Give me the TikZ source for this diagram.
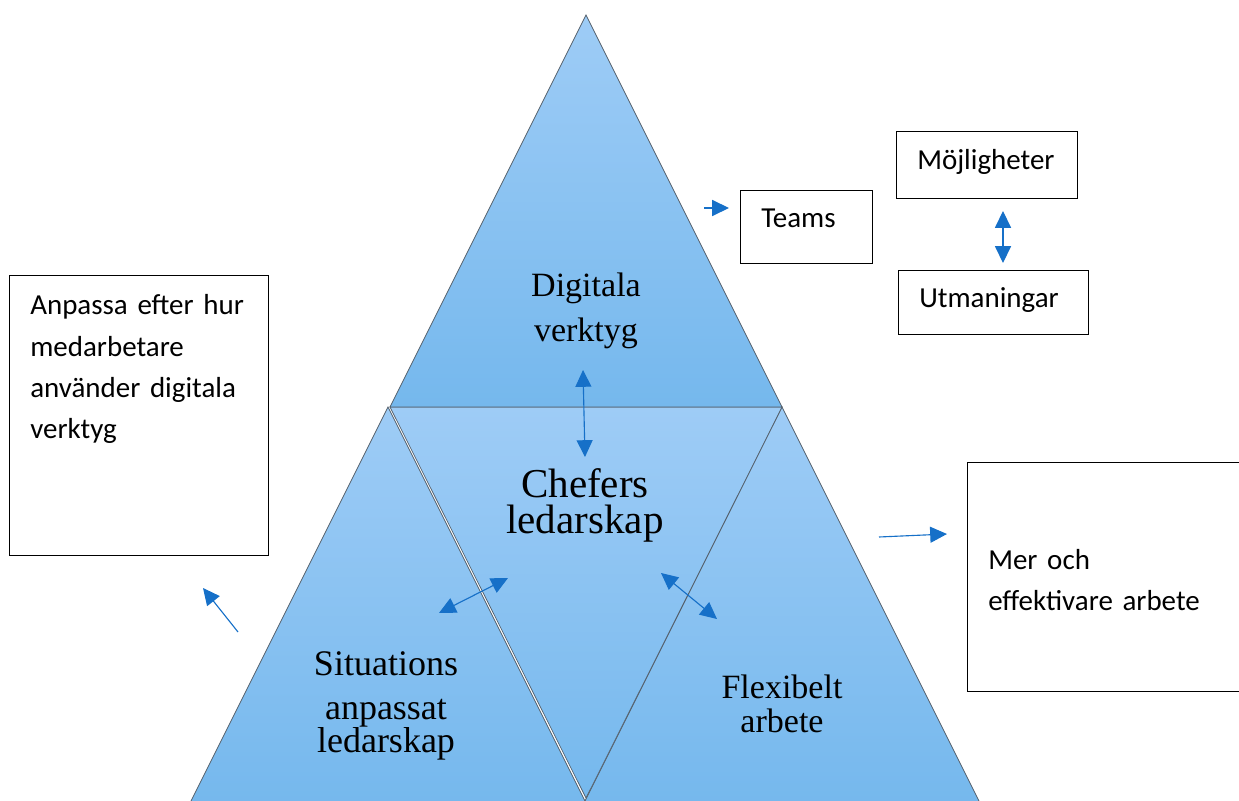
\documentclass[tikz,border=0pt]{standalone}
\usepackage[svgnames]{xcolor}
\usepackage{fontspec}
\setmainfont{Liberation Serif}
\newfontfamily\boxfont{Carlito}
\usepackage{tikz}
\usetikzlibrary{arrows.meta}

\definecolor{PyrLight}{RGB}{158,204,246}
\definecolor{PyrDark}{RGB}{117,184,237}
\definecolor{PyrEdge}{RGB}{84,96,108}
\definecolor{ArrowBlue}{RGB}{22,112,200}

\newcommand{\tightlines}{\lineskiplimit=-20pt\relax}

\tikzset{
    pyr/.style={top color=PyrLight, bottom color=PyrDark, draw=PyrEdge, line width=0.5pt},
    pyrtext/.style={text width=6cm, align=center, anchor=base, inner sep=0pt},
    textbox/.style={draw=black, line width=0.8pt, inner sep=0pt, anchor=north west},
    boxtext/.style={font=\boxfont\fontsize{20.6}{29.2}\selectfont, inner sep=0pt, anchor=base west, text width=6cm, align=left},
    oneway/.style={draw=ArrowBlue, line width=0.8pt, -{Triangle[length=0.42cm, width=0.4cm]}},
    twoway/.style={draw=ArrowBlue, line width=0.8pt, {Triangle[length=0.42cm, width=0.4cm]}-{Triangle[length=0.42cm, width=0.4cm]}},
}

\begin{document}
\begin{tikzpicture}[x=0.025cm, y=-0.025cm]

    \useasboundingbox (0,0) rectangle (1239,801);

    %Pyramid
    \shade[pyr] (388,407) -- (189,805) -- (587,805) -- cycle; %Lower left
    \shade[pyr] (782,407) -- (981,805) -- (583,805) -- cycle; %Lower right
    \shade[pyr] (390,407) -- (782,407) -- (586,798) -- cycle; %Middle
    \shade[pyr] (586,15) -- (390,407) -- (782,407) -- cycle; %Top

    %Pyramid texts
    \node[pyrtext, font=\fontsize{24.2}{32}\selectfont] (digital) at (586,297) {Digitala\\verktyg};
    \node[pyrtext, font=\fontsize{29.2}{26.3}\selectfont\tightlines] (lead) at (585,497) {Chefers\\ledarskap};
    \node[pyrtext, font=\fontsize{25.6}{23.5}\selectfont\tightlines] (situation) at (386,675) {Situations\\[7.8pt]anpassat\\ledarskap};
    \node[pyrtext, font=\fontsize{24.2}{24.2}\selectfont\tightlines] (flex) at (782,698) {Flexibelt\\arbete};

    %Boxes
    \node[textbox, minimum width=6.475cm, minimum height=7cm] (adapt) at (9,275) {};
    \node[boxtext] (adapttext) at (30,315) {Anpassa efter hur\\medarbetare\\använder digitala\\verktyg};

    \node[textbox, minimum width=3.3cm, minimum height=1.825cm] (teams) at (740,190) {};
    \node[boxtext] (teamstext) at (761,228) {Teams};

    \node[textbox, minimum width=4.525cm, minimum height=1.675cm] (chances) at (896,131) {};
    \node[boxtext] (chancestext) at (917,170) {Möjligheter};

    \node[textbox, minimum width=4.75cm, minimum height=1.6cm] (challenges) at (898,270) {};
    \node[boxtext] (challengestext) at (919,308) {Utmaningar};

    \node[textbox, minimum width=7.2cm, minimum height=5.725cm] (result) at (967,462) {};
    \node[boxtext] (resulttext) at (988,569) {Mer och\\effektivare arbete};

    %Arrow ends
    \coordinate (digitalend) at (583,370);
    \coordinate (leadtop) at (585,457);
    \coordinate (situationend) at (439,613);
    \coordinate (leadleft) at (508,578);
    \coordinate (leadright) at (661,573);
    \coordinate (flexend) at (717,619);
    \coordinate (teamsstart) at (704,208);
    \coordinate (teamsend) at (729,208);
    \coordinate (chancesend) at (1003,211);
    \coordinate (challengesend) at (1003,263);
    \coordinate (resultstart) at (879,537);
    \coordinate (resultend) at (947,534);
    \coordinate (adaptstart) at (238,632);
    \coordinate (adaptend) at (203,588);

    %Arrows
    \draw[twoway] (digitalend) -- (leadtop);
    \draw[twoway] (situationend) -- (leadleft);
    \draw[twoway] (leadright) -- (flexend);
    \draw[oneway] (teamsstart) -- (teamsend);
    \draw[twoway] (chancesend) -- (challengesend);
    \draw[oneway] (resultstart) -- (resultend);
    \draw[oneway] (adaptstart) -- (adaptend);

\end{tikzpicture}
\end{document}
